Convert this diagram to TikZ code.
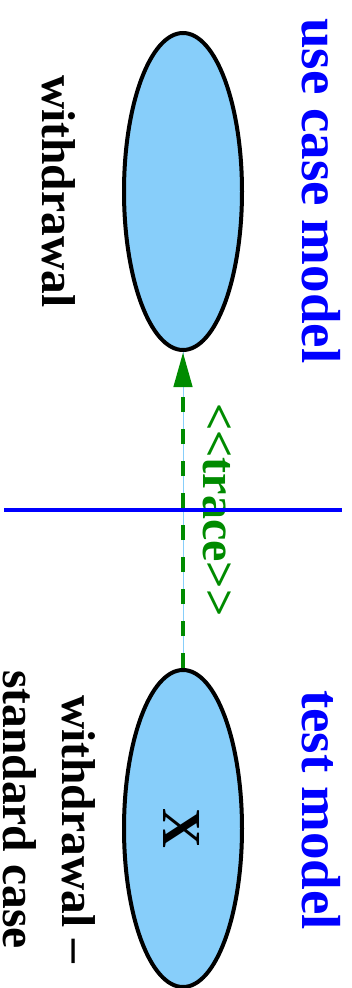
\documentclass[tikz,border=0pt]{standalone}
\usepackage{fontspec}
\setmainfont{Liberation Serif}
\usetikzlibrary{shapes.geometric,arrows.meta}
\definecolor{ucfill}{RGB}{135,206,250}
\definecolor{tracegreen}{RGB}{0,139,0}
\definecolor{modelblue}{RGB}{0,0,255}
\begin{document}
\begin{tikzpicture}[x=1pt,y=-1pt,
  usecase/.style={ellipse, draw=black, line width=4pt, fill=ucfill,
    minimum width=118pt, minimum height=317pt, inner sep=0pt},
  rtext/.style={rotate=-90, inner sep=0pt, anchor=base west,
    font=\bfseries\fontsize{47.5}{57}\selectfont},
  modeltitle/.style={rotate=-90, inner sep=0pt, anchor=base west, text=modelblue,
    font=\bfseries\fontsize{55}{66}\selectfont},
  tracelabel/.style={rotate=-90, inner sep=0pt, anchor=base west, text=tracegreen,
    font=\bfseries\fontsize{48}{58}\selectfont},
  traceline/.style={draw=tracegreen, line width=4.5pt, dash pattern=on 15pt off 17pt,
    -{Triangle[length=35pt,width=18pt]}},
  separator/.style={draw=modelblue, line width=3.5pt}]
\useasboundingbox (0,0) rectangle (352,988);
% use cases
\node[usecase] (uc) at (183,191.5) {};
\node[usecase] (tc) at (183,828.5) {};
\node[rotate=-90, inner sep=0pt, anchor=base,
  font=\bfseries\fontsize{55}{66}\selectfont] (tcx) at (163,828.5) {X};
% connector
\draw[ucfill, line width=1pt] (tc.north) -- (uc.south);
\draw[traceline, tracegreen] (tc.north) -- (uc.south);
% labels
\node[rtext] (ucname) at (42,75) {withdrawal};
\node[rtext] (tcname1) at (62,695) {withdrawal --};
\node[rtext] (tcname2) at (4,670) {standard case};
\node[modeltitle] (ucmodel) at (302,18) {use case model};
\node[modeltitle] (tcmodel) at (302,690) {test model};
\node[tracelabel] (trace) at (203,403) {{<}{<}trace{>}{>}};
% separator
\coordinate (sepL) at (4,510);
\coordinate (sepR) at (342,510);
\draw[separator] (sepL) -- (sepR);
\end{tikzpicture}
\end{document}
